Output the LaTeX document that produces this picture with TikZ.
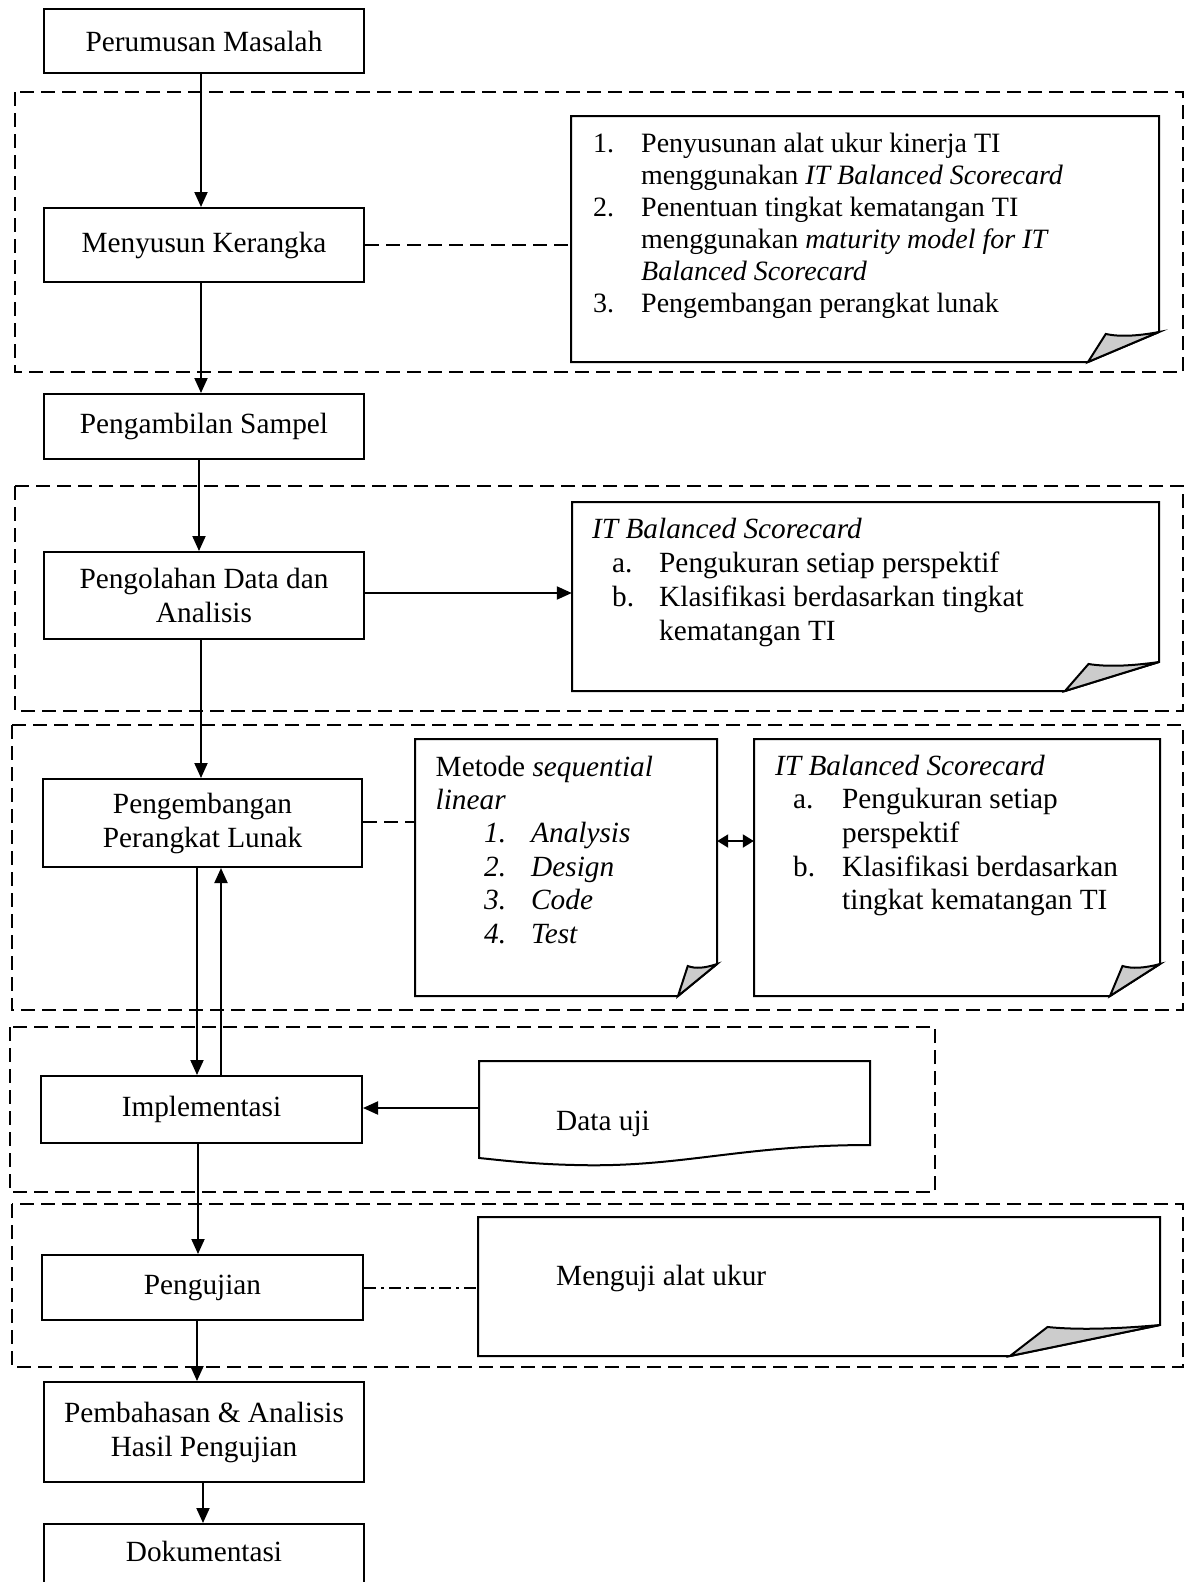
\documentclass[tikz,border=0pt]{standalone}
\usepackage{fontspec}
\setmainfont{Liberation Serif}
\usetikzlibrary{arrows.meta,fit,calc}
\newcommand\foldnote[7]{% name,left,top,right,bottom,fold width,fold height
  \draw[notel] (#2,#3) -- (#4,#3) -- (#4,{#5-#7}) -- ({#4-#6},#5) -- (#2,#5) -- cycle;
  \filldraw[notel, fill=gray!40] ({#4-#6},#5) -- ({#4-0.75*#6},{#5-#7+2})
     .. controls ({#4-0.55*#6},{#5-#7+5}) and ({#4-0.3*#6},{#5-#7+4}) .. (#4,{#5-#7}) -- cycle;
  \coordinate (#1-nw) at (#2,#3);
  \coordinate (#1-se) at (#4,#5);
  \node[fit=(#1-nw)(#1-se), inner sep=0pt] (#1) {};
}
\begin{document}
\begin{tikzpicture}[x=1pt,y=-1pt,
  every node/.style={font=\fontsize{29.3}{34}\selectfont},
  box/.style={draw, line width=2pt, minimum width=320pt, align=center, inner sep=0pt},
  grp/.style={line width=2pt, dash pattern=on 14pt off 7pt},
  notel/.style={line width=2pt},
  arr/.style={line width=2pt, -{Triangle[length=15pt,width=13pt]}},
  dblarr/.style={line width=2pt, {Triangle[length=11pt,width=13pt]}-{Triangle[length=11pt,width=13pt]}},
  dsh/.style={line width=1.5pt, dash pattern=on 14pt off 7pt},
  dshdot/.style={line width=1.5pt, dash pattern=on 12pt off 5pt on 3pt off 5pt},
  txt/.style={anchor=base west, inner sep=0pt},
]
\clip (0,0) rectangle (1192,1582);
\fill[white] (0,0) rectangle (1192,1582);

% group regions
\draw[grp] (15,92) rectangle (1183,372);
\draw[grp] (15,486) rectangle (1183,711);
\draw[grp] (12,725) rectangle (1183,1010);
\draw[grp] (10,1027) rectangle (935,1192);
\draw[grp] (12,1204) rectangle (1183,1367);

% main boxes
\node[box, minimum width=320pt, minimum height=64pt] (pm) at (204,41) {Perumusan Masalah};
\node[box, minimum width=320pt, minimum height=74pt] (mk) at (204,245) {Menyusun Kerangka};
\node[box, minimum width=320pt, minimum height=65pt] (ps) at (204,426.5) {Pengambilan Sampel};
\node[box, minimum width=320pt, minimum height=87pt] (pd) at (204,595.5) {Pengolahan Data dan\\Analisis};
\node[box, minimum width=319pt, minimum height=88pt] (ppl) at (202.5,823) {Pengembangan\\Perangkat Lunak};
\node[box, minimum width=321pt, minimum height=67pt] (imp) at (201.5,1109.5) {Implementasi};
\node[box, minimum width=321pt, minimum height=65pt] (pg) at (202.5,1287.5) {Pengujian};
\node[box, minimum width=320pt, minimum height=100pt] (pb) at (204,1432) {Pembahasan \& Analisis\\Hasil Pengujian};
\node[box, minimum width=320pt, text height=37pt, text depth=40pt, anchor=north] (dk) at (204,1523) {Dokumentasi};

% notes
\foldnote{n1}{571}{116}{1159}{362}{71}{30}
\foldnote{n2}{572}{502}{1159}{691}{94}{29}
\foldnote{n3}{415}{739}{717}{996}{39}{32}
\foldnote{n4}{754}{739}{1160}{996}{50}{32}
\foldnote{n5}{478}{1217}{1160}{1356}{150}{31}

% data uji (document shape)
\draw[notel] (479,1061) -- (870,1061) -- (870,1145)
  .. controls (740,1145) and (680,1168) .. (575,1165)
  .. controls (530,1164) and (500,1160) .. (479,1158) -- cycle;
\coordinate (du-nw) at (479,1061);
\coordinate (du-se) at (870,1158);
\node[fit=(du-nw)(du-se), inner sep=0pt] (du) {};

% note texts
\node[txt, font=\fontsize{28}{32}\selectfont] (t1) at (593,152) {\begin{tabular}[t]{@{}p{48pt}@{}l@{}}
1. & Penyusunan alat ukur kinerja TI\\
   & menggunakan \textit{IT Balanced Scorecard}\\
2. & Penentuan tingkat kematangan TI\\
   & menggunakan \textit{maturity model for IT}\\
   & \textit{Balanced Scorecard}\\
3. & Pengembangan perangkat lunak
\end{tabular}};

\node[txt, font=\fontsize{29.3}{34}\selectfont] (t2) at (592,538) {\begin{tabular}[t]{@{}p{20pt}@{}p{47pt}@{}l@{}}
\multicolumn{3}{@{}l@{}}{\textit{IT Balanced Scorecard}}\\
 & a. & Pengukuran setiap perspektif\\
 & b. & Klasifikasi berdasarkan tingkat\\
 &    & kematangan TI
\end{tabular}};

\node[txt, font=\fontsize{29.3}{33.4}\selectfont] (t3) at (435.5,776) {\begin{tabular}[t]{@{}p{48.5pt}@{}p{47pt}@{}l@{}}
\multicolumn{3}{@{}l@{}}{Metode \textit{sequential}}\\
\multicolumn{3}{@{}l@{}}{\textit{linear}}\\
 & \textit{1.} & \textit{Analysis}\\
 & \textit{2.} & \textit{Design}\\
 & \textit{3.} & \textit{Code}\\
 & \textit{4.} & \textit{Test}
\end{tabular}};

\node[txt, font=\fontsize{29.3}{33.7}\selectfont] (t4) at (775,775) {\begin{tabular}[t]{@{}p{18pt}@{}p{49pt}@{}l@{}}
\multicolumn{3}{@{}l@{}}{\textit{IT Balanced Scorecard}}\\
 & a. & Pengukuran setiap\\
 &    & perspektif\\
 & b. & Klasifikasi berdasarkan\\
 &    & tingkat kematangan TI
\end{tabular}};

\node[txt] (tdu) at (556,1130) {Data uji};
\node[txt] (t5) at (556,1285) {Menguji alat ukur};

% helper coordinates for connector lines
\coordinate (v1) at (201,0);
\coordinate (v2) at (201,0);
\coordinate (v3) at (199,0);
\coordinate (v4) at (201,0);
\coordinate (vdn) at (197,0);
\coordinate (vup) at (221,0);
\coordinate (v6) at (198,0);
\coordinate (v7) at (197,0);
\coordinate (v8) at (203,0);
\coordinate (h2) at (0,593);
\coordinate (h3) at (0,822);
\coordinate (h4) at (0,841);
\coordinate (h5) at (0,1108);
\coordinate (h6) at (0,1288);

% vertical flow
\draw[arr] (v1 |- pm.south) -- (v1 |- mk.north);
\draw[arr] (v2 |- mk.south) -- (v2 |- ps.north);
\draw[arr] (v3 |- ps.south) -- (v3 |- pd.north);
\draw[arr] (v4 |- pd.south) -- (v4 |- ppl.north);
\draw[arr] (vdn |- ppl.south) -- (vdn |- imp.north);
\draw[arr] (vup |- imp.north) -- (vup |- ppl.south);
\draw[arr] (v6 |- imp.south) -- (v6 |- pg.north);
\draw[arr] (v7 |- pg.south) -- (v7 |- pb.north);
\draw[arr] (v8 |- pb.south) -- (v8 |- dk.north);

% horizontal links
\draw[dsh] (mk.east) -- (mk.east -| n1.west);
\draw[arr] (h2 -| pd.east) -- (h2 -| n2.west);
\draw[dsh] (h3 -| ppl.east) -- (h3 -| n3.west);
\draw[dblarr] (h4 -| n3.east) -- (h4 -| n4.west);
\draw[arr] (h5 -| du.west) -- (h5 -| imp.east);
\draw[dshdot] (h6 -| pg.east) -- (h6 -| n5.west);
\end{tikzpicture}
\end{document}
